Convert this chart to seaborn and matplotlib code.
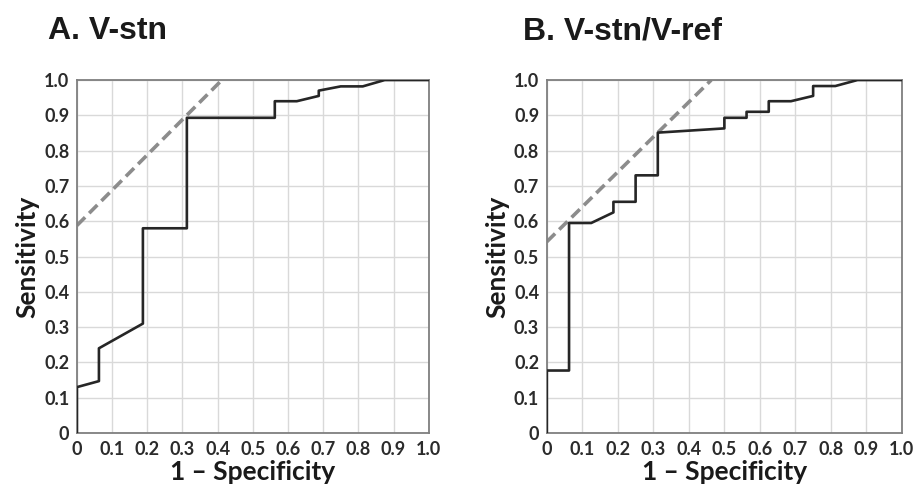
import pandas as pd
import matplotlib
matplotlib.use("Agg")
import matplotlib.pyplot as plt
import seaborn as sns

# ROC curve points (1 - specificity, sensitivity)
fpr_a = [0, 0, 0.0625, 0.0625, 0.1875, 0.1875, 0.3125, 0.3125, 0.5625, 0.5625,
         0.625, 0.6875, 0.6875, 0.75, 0.8125, 0.875, 1.0]
tpr_a = [0, 0.13, 0.147, 0.24, 0.31, 0.58, 0.58, 0.893, 0.893, 0.94,
         0.94, 0.955, 0.97, 0.982, 0.982, 1.0, 1.0]

fpr_b = [0, 0, 0.0625, 0.0625, 0.125, 0.1875, 0.1875, 0.25, 0.25, 0.3125, 0.3125,
         0.5, 0.5, 0.5625, 0.5625, 0.625, 0.625, 0.6875, 0.75, 0.75, 0.8125, 0.875, 1.0]
tpr_b = [0, 0.177, 0.177, 0.595, 0.595, 0.625, 0.655, 0.655, 0.73, 0.73, 0.851,
         0.863, 0.893, 0.893, 0.91, 0.91, 0.94, 0.94, 0.955, 0.983, 0.983, 1.0, 1.0]

# dashed tangent lines (start / end points)
tan_a_x = [0, 0.412]
tan_a_y = [0.588, 1.0]
tan_b_x = [0, 0.463]
tan_b_y = [0.542, 1.0]

titles = ["A. V-stn", "B. V-stn/V-ref"]
ticks = [0, 0.1, 0.2, 0.3, 0.4, 0.5, 0.6, 0.7, 0.8, 0.9, 1.0]
tick_labels = ["0", "0.1", "0.2", "0.3", "0.4", "0.5", "0.6", "0.7", "0.8", "0.9", "1.0"]

sns.set_style("whitegrid")
plt.rcParams['font.family'] = ['Lato', 'DejaVu Sans']

fig = plt.figure(figsize=(9.16, 4.88), dpi=100)
ax_a = fig.add_axes([0.084, 0.1127, 0.384, 0.7233])
ax_b = fig.add_axes([0.597, 0.1127, 0.3876, 0.7233])

panels = [(ax_a, fpr_a, tpr_a, tan_a_x, tan_a_y), (ax_b, fpr_b, tpr_b, tan_b_x, tan_b_y)]

for k, (ax, fx, fy, tx, ty) in enumerate(panels):
    roc = pd.DataFrame({"fpr": fx, "tpr": fy})
    tan = pd.DataFrame({"x": tx, "y": ty})
    sns.lineplot(data=tan, x="x", y="y", ax=ax, color="#8c8c8c", lw=2.6,
                 linestyle=(0, (3.2, 1.6)), sort=False, estimator=None, zorder=2)
    sns.lineplot(data=roc, x="fpr", y="tpr", ax=ax, color="#262626", lw=1.9,
                 sort=False, estimator=None, zorder=3)
    ax.set_xlim(0, 1)
    ax.set_ylim(0, 1)
    ax.set_xticks(ticks)
    ax.set_yticks(ticks)
    ax.set_xticklabels(tick_labels)
    ax.set_yticklabels(tick_labels)
    ax.grid(True, color="#d9d9d9", lw=1.0)
    for s in ax.spines.values():
        s.set_color("#7f7f7f")
        s.set_linewidth(1.3)
        s.set_visible(True)
    ax.tick_params(axis="both", which="major", direction="out", length=4, width=1,
                   color="#7f7f7f", labelsize=13, labelcolor="#2b2b2b", pad=1.5)
    for lab in ax.get_xticklabels() + ax.get_yticklabels():
        lab.set_fontweight("bold")
    ax.set_xlabel("1 \u2013 Specificity", fontsize=19, fontweight="bold", color="#1a1a1a", labelpad=2)
    ax.set_ylabel("Sensitivity", fontsize=19, fontweight="bold", color="#1a1a1a", labelpad=3)
    ax.text(-0.082 if k == 0 else -0.068, 1.095, titles[k], transform=ax.transAxes,
            fontsize=23, fontweight="bold", family="Liberation Sans", color="#1a1a1a",
            ha="left", va="bottom")

fig.savefig("out.png", dpi=100, facecolor="white")
